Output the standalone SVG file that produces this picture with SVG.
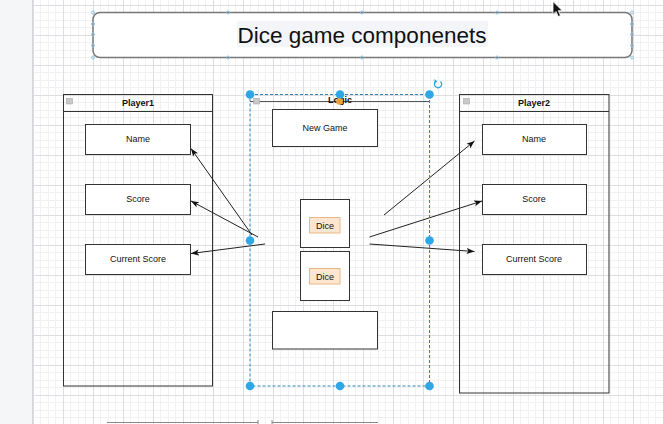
<svg xmlns="http://www.w3.org/2000/svg" width="663" height="424" viewBox="0 0 663 424">
<style>
  .lbl{font-family:"Liberation Sans",Arial,Helvetica,sans-serif;font-size:9px;fill:#111;text-anchor:middle}
  .hdr{font-family:"Liberation Sans",Arial,Helvetica,sans-serif;font-size:9px;font-weight:bold;fill:#111;text-anchor:middle}
  .box{fill:#fff;stroke:#333;stroke-width:1}
  .lane{fill:none;stroke:#333;stroke-width:1}
  .dice{fill:#fde6cf;stroke:#e8b888;stroke-width:1}
  .col{fill:#c8c8c8;stroke:#a0a0a0;stroke-width:0.5}
  .conn{stroke:#222;stroke-width:1;fill:none}
  .handle{fill:#2fa6e6;stroke:none}
  .pt{fill:none;stroke:#8ec3df;stroke-width:1}
</style>
<defs>
  <pattern id="grid" patternUnits="userSpaceOnUse" x="33" y="5" width="30" height="30">
    <rect x="0" y="0" width="30" height="30" fill="#ffffff"/>
    <rect x="7" y="0" width="1" height="30" fill="#f1f1f3"/>
    <rect x="15" y="0" width="1" height="30" fill="#f1f1f3"/>
    <rect x="22" y="0" width="1" height="30" fill="#f1f1f3"/>
    <rect x="0" y="7" width="30" height="1" fill="#f1f1f3"/>
    <rect x="0" y="15" width="30" height="1" fill="#f1f1f3"/>
    <rect x="0" y="22" width="30" height="1" fill="#f1f1f3"/>
    <rect x="0" y="0" width="1" height="30" fill="#dedee2"/>
    <rect x="0" y="0" width="30" height="1" fill="#dedee2"/>
  </pattern>
  <marker id="arr" markerUnits="userSpaceOnUse" markerWidth="10" markerHeight="8" refX="8" refY="3" orient="auto">
    <path d="M0,0 L8,3 L0,6 L2,3 z" fill="#111"/>
  </marker>
</defs>

<!-- canvas -->
<rect x="0" y="0" width="663" height="424" fill="#ffffff"/>
<rect x="33" y="0" width="630" height="424" fill="url(#grid)"/>
<rect x="0" y="0" width="32" height="424" fill="#f5f6f8"/>
<line x1="32.5" y1="0" x2="32.5" y2="424" stroke="#d6d7da" stroke-width="1"/>

<!-- title -->
<g id="title">
  <rect x="93" y="12.5" width="539" height="45" rx="7" fill="#fff" stroke="#777" stroke-width="1.5"/>
  <rect x="237" y="21" width="251" height="26" fill="#f4f5f9"/>
  <text x="362" y="42.5" font-family="'Liberation Sans',Arial,Helvetica,sans-serif" font-size="22.5" fill="#111" text-anchor="middle">Dice game componenets</text>
  <g class="pt">
    <circle cx="93" cy="12.5" r="1.5"/><circle cx="228" cy="12.5" r="1.5"/><circle cx="362" cy="12.5" r="1.5"/><circle cx="497" cy="12.5" r="1.5"/><circle cx="632" cy="12.5" r="1.5"/>
    <circle cx="93" cy="57.5" r="1.5"/><circle cx="228" cy="57.5" r="1.5"/><circle cx="362" cy="57.5" r="1.5"/><circle cx="497" cy="57.5" r="1.5"/><circle cx="632" cy="57.5" r="1.5"/>
    <circle cx="93" cy="24" r="1.5"/><circle cx="93" cy="34.5" r="1.5"/><circle cx="93" cy="45.5" r="1.5"/>
    <circle cx="632" cy="24" r="1.5"/><circle cx="632" cy="34.5" r="1.5"/><circle cx="632" cy="45.5" r="1.5"/>
  </g>
</g>

<!-- Player1 -->
<g id="player1">
  <rect class="lane" x="63.5" y="94.5" width="149" height="291.5"/>
  <line x1="63.5" y1="111.5" x2="212.5" y2="111.5" stroke="#333"/>
  <rect class="col" x="66.5" y="98.5" width="6" height="5.5"/>
  <text class="hdr" x="138" y="106">Player1</text>
</g>
<g id="p1-name"><rect class="box" x="85.5" y="124.5" width="105" height="30"/><text class="lbl" x="138" y="142">Name</text></g>
<g id="p1-score"><rect class="box" x="85.5" y="184.5" width="105" height="30"/><text class="lbl" x="138" y="202">Score</text></g>
<g id="p1-current"><rect class="box" x="85.5" y="244.5" width="105" height="30"/><text class="lbl" x="138" y="262">Current Score</text></g>

<!-- Player2 -->
<g id="player2">
  <rect class="lane" x="459.5" y="94.5" width="149.5" height="298.5"/>
  <line x1="459.5" y1="111.5" x2="609" y2="111.5" stroke="#333"/>
  <rect class="col" x="463.5" y="98.5" width="6" height="5.5"/>
  <text class="hdr" x="534" y="106">Player2</text>
</g>
<g id="p2-name"><rect class="box" x="482.5" y="124.5" width="104" height="30"/><text class="lbl" x="534" y="142">Name</text></g>
<g id="p2-score"><rect class="box" x="482.5" y="184.5" width="104" height="30"/><text class="lbl" x="534" y="202">Score</text></g>
<g id="p2-current"><rect class="box" x="482.5" y="244.5" width="104" height="30"/><text class="lbl" x="534" y="262">Current Score</text></g>

<!-- Logic -->
<g id="logic">
  <line x1="250" y1="101.5" x2="429" y2="101.5" stroke="#555" stroke-width="1.2"/>
  <rect class="col" x="253.5" y="98.5" width="6" height="5.5"/>
  <text class="hdr" x="340" y="102.5">Logic</text>
</g>
<g id="new-game"><rect class="box" x="272.5" y="109.5" width="105" height="37"/><text class="lbl" x="325" y="131">New Game</text></g>
<g id="dice1">
  <rect class="box" x="300.5" y="199.5" width="49" height="48"/>
  <rect class="dice" x="309.5" y="217.5" width="30.5" height="15.5"/>
  <text class="lbl" x="325" y="228.5">Dice</text>
</g>
<g id="dice2">
  <rect class="box" x="300.5" y="251.5" width="49" height="49"/>
  <rect class="dice" x="309.5" y="268.5" width="30.5" height="15.5"/>
  <text class="lbl" x="325" y="279.5">Dice</text>
</g>
<g id="empty-box"><rect class="box" x="272.5" y="311.5" width="105" height="37.5"/></g>

<!-- connectors -->
<g id="connectors">
  <line class="conn" x1="252" y1="235" x2="191" y2="148.5" marker-end="url(#arr)"/>
  <line class="conn" x1="258" y1="237" x2="191" y2="201" marker-end="url(#arr)"/>
  <line class="conn" x1="265" y1="244" x2="191" y2="253.5" marker-end="url(#arr)"/>
  <line class="conn" x1="384" y1="215" x2="474.5" y2="141" marker-end="url(#arr)"/>
  <line class="conn" x1="369.5" y1="237" x2="482" y2="201" marker-end="url(#arr)"/>
  <line class="conn" x1="369.5" y1="244" x2="474.5" y2="251.5" marker-end="url(#arr)"/>
</g>

<!-- selection of Logic -->
<g id="selection">
  <rect x="250" y="94.5" width="179.5" height="291.5" fill="none" stroke="#2f86b4" stroke-width="1" stroke-dasharray="3 2"/>
  <circle class="handle" cx="250" cy="94.5" r="4.3"/>
  <circle class="handle" cx="340" cy="94.5" r="4.3"/>
  <circle class="handle" cx="429.5" cy="94.5" r="4.3"/>
  <circle class="handle" cx="250" cy="240.5" r="4.3"/>
  <circle class="handle" cx="429.5" cy="240.5" r="4.3"/>
  <circle class="handle" cx="250" cy="386" r="4.3"/>
  <circle class="handle" cx="340" cy="386" r="4.3"/>
  <circle class="handle" cx="429.5" cy="386" r="4.3"/>
  <circle cx="339.5" cy="101.5" r="3.3" fill="#f0a032"/>
  <path d="M440.5,81.5 A3.6,3.6 0 1 1 436,81.2" fill="none" stroke="#2fa6e6" stroke-width="1.3"/>
  <path d="M434.5,79 L437.5,81.5 L434.5,83.5 z" fill="#2fa6e6"/>
</g>

<!-- partial shapes at bottom edge -->
<g id="bottom-edge" stroke="#888" stroke-width="1">
  <line x1="107" y1="422.5" x2="258" y2="422.5"/>
  <line x1="272" y1="422.5" x2="378" y2="422.5"/>
  <line x1="258" y1="420" x2="258" y2="424"/>
  <line x1="272" y1="420" x2="272" y2="424"/>
</g>

<!-- mouse cursor -->
<path d="M553,1.5 L553,14.5 L556,11.5 L558.3,16.5 L560.5,15.5 L558.3,10.7 L562.3,10.7 z" fill="#111" stroke="#fff" stroke-width="0.8"/>
</svg>
